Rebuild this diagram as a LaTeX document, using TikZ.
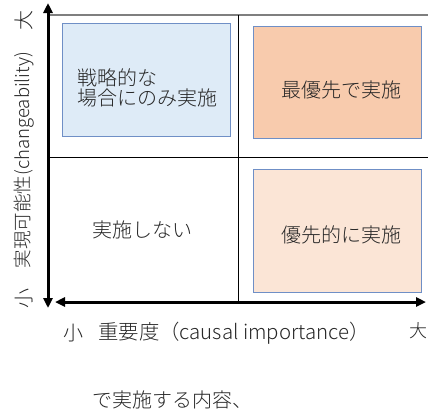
\documentclass[tikz,border=0pt]{standalone}
\usepackage{fontspec}
\setmainfont{Noto Sans CJK JP}[UprightFont=* Light]
\usetikzlibrary{arrows.meta}
\definecolor{txt}{HTML}{262626}
\definecolor{bluefill}{HTML}{DEEBF7}
\definecolor{boxline}{HTML}{6F8FC6}
\definecolor{orangeA}{HTML}{F8CBAD}
\definecolor{orangeB}{HTML}{FBE5D6}
\definecolor{topline}{HTML}{7F7F7F}
\tikzset{
  lbl/.style={text=txt, font=\fontsize{20}{20}\selectfont, inner sep=0pt},
  qbox/.style={draw=boxline, line width=0.9pt, minimum width=168pt, inner sep=0pt},
  axis/.style={line width=3pt, {Triangle[length=10pt,width=9pt]}-{Triangle[length=10pt,width=9pt]}},
  grid/.style={line width=0.9pt, black}
}
\begin{document}
\begin{tikzpicture}[x=1pt,y=-1pt]
\useasboundingbox (0,0) rectangle (428,410);
% boxes
\node[qbox, fill=bluefill, minimum height=113pt] (b1) at (146,79.5) {};
\node[qbox, fill=orangeA, minimum height=112pt] (b2) at (337,82) {};
\node[qbox, fill=orangeB, minimum height=123pt] (b4) at (337,230.5) {};
% grid
\coordinate (tl) at (48,15);
\coordinate (tr) at (428,15);
\coordinate (ml) at (48,157);
\coordinate (mr) at (428,157);
\coordinate (vt) at (238,15);
\coordinate (vb) at (238,302);
\draw[line width=2pt, topline] (tl) -- (tr);
\draw[grid] (ml) -- (mr);
\draw[grid] (vt) -- (vb);
% axes
\coordinate (yt) at (48,3);
\coordinate (yb) at (48,308);
\coordinate (xl) at (55,302);
\coordinate (xr) at (426,302);
\draw[axis] (yb) -- (yt);
\draw[axis] (xl) -- (xr);
% texts
\node[lbl, anchor=west, align=left] (t1) at (77,88) {戦略的な\\場合にのみ実施};
\node[lbl] (t2) at (341,90) {最優先で実施};
\node[lbl] (t3) at (142,230) {実施しない};
\node[lbl] (t4) at (341,235) {優先的に実施};
\node[lbl, rotate=90] (ybig) at (24,20) {大};
\node[lbl, rotate=90] (ysmall) at (24,298) {小};
\node[lbl, rotate=90, font=\fontsize{18.5}{20}\selectfont] (ylab) at (24,160) {実現可能性(changeability)};
\node[lbl] (xsmall) at (73,333) {小};
\node[lbl, font=\fontsize{20.4}{20}\selectfont] (xlab) at (234,333) {重要度（causal importance）};
\node[lbl, font=\fontsize{18}{20}\selectfont] (xbig) at (418,331) {大};
\node[lbl] (note) at (172,400) {で実施する内容、};
\end{tikzpicture}
\end{document}
